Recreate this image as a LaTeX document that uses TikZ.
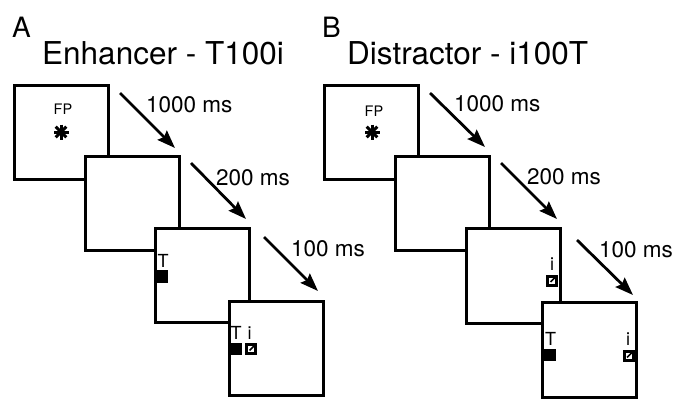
\documentclass[tikz,border=0pt]{standalone}
\usepackage{fontspec}
\setmainfont{TeX Gyre Heros}
\usetikzlibrary{arrows.meta}
\begin{document}
\begin{tikzpicture}[x=1pt,y=-1pt,
  screen/.style={draw, line width=3pt, fill=white, minimum width=94pt, minimum height=94.5pt, inner sep=0pt},
  tarr/.style={line width=2.8pt, -{Stealth[length=18pt,width=13pt,inset=2.5pt]}},
  lbl/.style={font=\fontsize{22.5}{26}\selectfont, anchor=west, inner sep=0pt},
  ttl/.style={font=\fontsize{31.5}{36}\selectfont, anchor=base west, inner sep=0pt},
  plett/.style={font=\fontsize{28}{32}\selectfont, anchor=base west, inner sep=0pt},
  fp/.style={font=\fontsize{14.5}{16}\selectfont, inner sep=0pt},
  stim/.style={font=\fontsize{18}{20}\selectfont, inner sep=0pt},
  tsq/.style={fill=black, minimum width=13pt, minimum height=12.5pt, inner sep=0pt},
  isq/.style={draw=black, line width=3pt, fill=white, minimum size=9pt, inner sep=0pt,
    path picture={
      \draw[line width=1.5pt] (path picture bounding box.north east) -- (path picture bounding box.south west);
      \fill (path picture bounding box.south west) -- ++(6pt,0pt) -- ++(-6pt,6pt) -- cycle;
    }},
  star/.style={inner sep=0pt, minimum size=0pt}
]
\useasboundingbox (0,0) rectangle (675,400);

% ---------------- Panel A ----------------
\node[plett] (labA) at (12,37) {A};
\node[ttl] (ttlA) at (42,64) {Enhancer - T100i};

\node[screen] (A1) at (61.5,132.5) {};
\node[fp] (A1fp) at (63,109) {FP};
\node[star] (A1st) at (61,132) {};
\foreach \a in {0,45,90,135}
  \draw[line width=3pt] (A1st) ++(\a:7.5pt) -- ++(\a+180:15pt);

\coordinate (a1s) at (120,93);
\coordinate (a1e) at (175,148);
\draw[tarr] (a1s) -- (a1e);
\node[lbl] (a1l) at (146,104.5) {1000 ms};

\node[screen] (A2) at (132,203.5) {};

\coordinate (a2s) at (191,163);
\coordinate (a2e) at (246,219);
\draw[tarr] (a2s) -- (a2e);
\node[lbl] (a2l) at (216,177.5) {200 ms};

\node[screen] (A3) at (202.5,275.5) {};
\node[stim] (A3T) at (163,261) {T};
\node[tsq] (A3sq) at (161.5,276.5) {};

\coordinate (a3s) at (264,237);
\coordinate (a3e) at (318,291);
\draw[tarr] (a3s) -- (a3e);
\node[lbl] (a3l) at (291,248.5) {100 ms};

\node[screen] (A4) at (276,348.5) {};
\node[stim] (A4T) at (236,333) {T};
\node[tsq] (A4sq) at (235.5,349) {};
\node[stim] (A4i) at (249.5,333) {i};
\node[isq] (A4isq) at (251,349) {};

% ---------------- Panel B ----------------
\node[plett] (labB) at (322,37) {B};
\node[ttl] (ttlB) at (347,64.5) {Distractor - i100T};

\node[screen] (B1) at (371.5,132.5) {};
\node[fp] (B1fp) at (374,111) {FP};
\node[star] (B1st) at (372,132) {};
\foreach \a in {0,45,90,135}
  \draw[line width=3pt] (B1st) ++(\a:7.5pt) -- ++(\a+180:15pt);

\coordinate (b1s) at (430,93);
\coordinate (b1e) at (485,147);
\draw[tarr] (b1s) -- (b1e);
\node[lbl] (b1l) at (454,104) {1000 ms};

\node[screen] (B2) at (442.5,203.5) {};

\coordinate (b2s) at (501,163);
\coordinate (b2e) at (557,219);
\draw[tarr] (b2s) -- (b2e);
\node[lbl] (b2l) at (527,177) {200 ms};

\node[screen] (B3) at (513,276) {};
\node[stim] (B3i) at (552,264) {i};
\node[isq] (B3isq) at (552,280.5) {};

\coordinate (b3s) at (577,240);
\coordinate (b3e) at (633,295);
\draw[tarr] (b3s) -- (b3e);
\node[lbl] (b3l) at (599,250) {100 ms};

\node[screen] (B4) at (589,350) {};
\node[stim] (B4T) at (550.5,339) {T};
\node[tsq] (B4sq) at (549.5,355) {};
\node[stim] (B4i) at (628,339) {i};
\node[isq] (B4isq) at (628.5,356) {};
\end{tikzpicture}
\end{document}
